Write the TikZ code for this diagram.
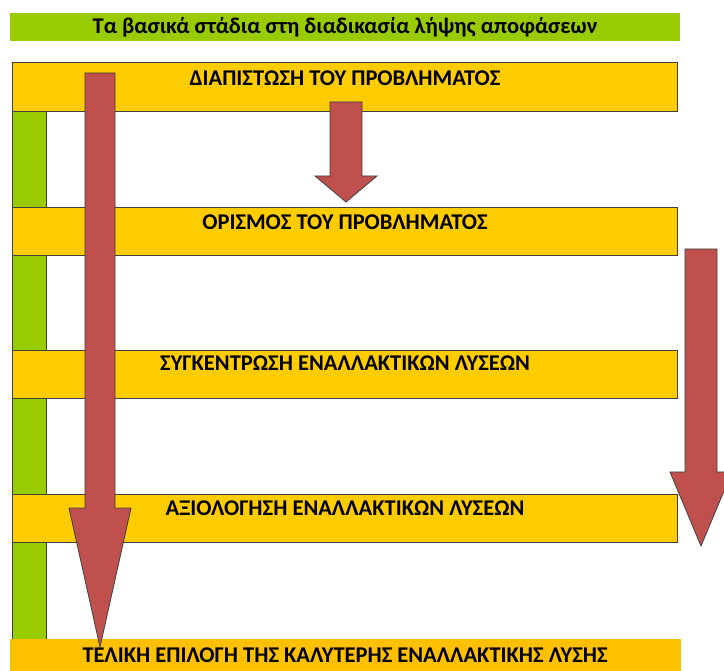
\documentclass[tikz,border=0pt]{standalone}
\usepackage{fontspec}
\setmainfont{Carlito}
\definecolor{boxyellow}{HTML}{FFCC00}
\definecolor{lastyellow}{HTML}{FFC000}
\definecolor{bargreen}{HTML}{99CC00}
\definecolor{arrowred}{HTML}{C0504D}
\definecolor{edgegray}{HTML}{404040}
\begin{document}
\begin{tikzpicture}[x=1pt,y=-1pt,
  stagebox/.style={draw=edgegray,line width=0.8pt,fill=boxyellow,inner sep=0pt},
  stagetext/.style={font=\bfseries\fontsize{22.5}{26}\selectfont,inner sep=0pt,anchor=center},
  bigarrow/.style={draw=edgegray,line width=0.8pt,fill=arrowred,line join=miter}]
\useasboundingbox (0,0) rectangle (724,671);
% title
\fill[bargreen] (10,13) rectangle (680,41);
\node[font=\bfseries\fontsize{22.5}{26}\selectfont,inner sep=0pt] (title) at (345,27) {Τα βασικά στάδια στη διαδικασία λήψης αποφάσεων};
% green vertical bar
\draw[draw=edgegray,line width=0.8pt,fill=bargreen] (12,111) rectangle (46,639);
% stage boxes
\draw[stagebox] (12,62) rectangle (677,111) coordinate (b1);
\draw[stagebox] (12,207) rectangle (677,255) coordinate (b2);
\draw[stagebox] (12,350) rectangle (677,398) coordinate (b3);
\draw[stagebox] (12,494) rectangle (677,542) coordinate (b4);
\fill[lastyellow] (10,639) rectangle (681,671);
\node[stagetext] (t1) at (345,78) {ΔΙΑΠΙΣΤΩΣΗ ΤΟΥ ΠΡΟΒΛΗΜΑΤΟΣ};
\node[stagetext] (t2) at (345,222) {ΟΡΙΣΜΟΣ ΤΟΥ ΠΡΟΒΛΗΜΑΤΟΣ};
\node[stagetext] (t3) at (345,363) {ΣΥΓΚΕΝΤΡΩΣΗ ΕΝΑΛΛΑΚΤΙΚΩΝ ΛΥΣΕΩΝ};
\node[stagetext] (t4) at (345,508) {ΑΞΙΟΛΟΓΗΣΗ ΕΝΑΛΛΑΚΤΙΚΩΝ ΛΥΣΕΩΝ};
\node[stagetext] (t5) at (345,655) {ΤΕΛΙΚΗ ΕΠΙΛΟΓΗ ΤΗΣ ΚΑΛΥΤΕΡΗΣ ΕΝΑΛΛΑΚΤΙΚΗΣ ΛΥΣΗΣ};
% arrows
\draw[bigarrow] (85,73) -- (115,73) -- (115,508) -- (131,508) -- (100,647) -- (69,508) -- (85,508) -- cycle;
\draw[bigarrow] (330,102) -- (362,102) -- (362,176) -- (377,176) -- (346,202) -- (315,176) -- (330,176) -- cycle;
\begin{scope}
\clip (0,0) rectangle (724,671);
\draw[bigarrow] (685,249) -- (717,249) -- (717,472) -- (732,472) -- (701,546) -- (670,472) -- (685,472) -- cycle;
\end{scope}
\end{tikzpicture}
\end{document}
